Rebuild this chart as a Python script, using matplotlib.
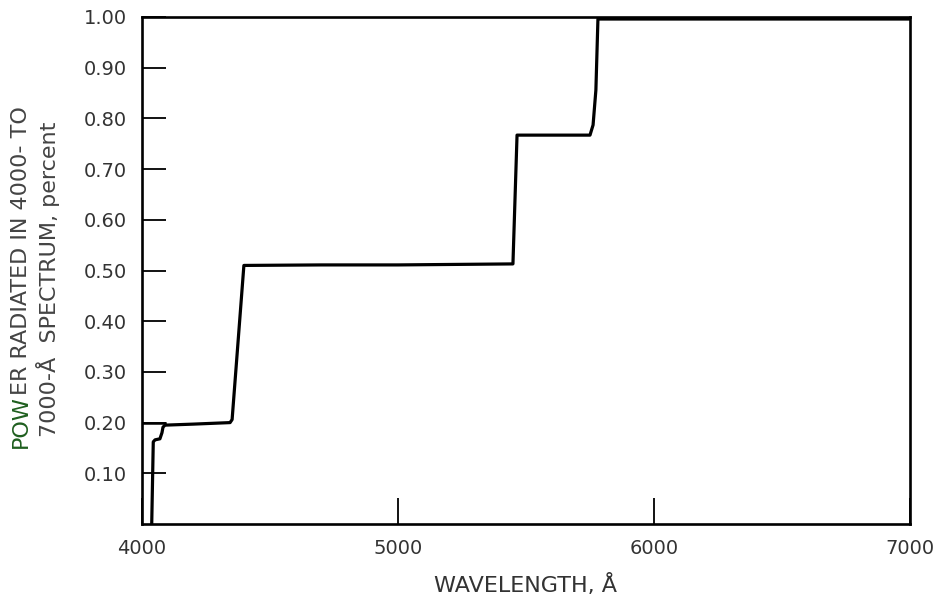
import matplotlib
matplotlib.use("Agg")
import matplotlib.pyplot as plt
from matplotlib.transforms import offset_copy

# Data
wavelength = [4038, 4044, 4051, 4070, 4078, 4082, 4090, 4200, 4344, 4352, 4398,
              4700, 5000, 5449, 5465, 5600, 5750, 5762, 5773, 5781, 6000, 7000]
power = [0.0, 0.162, 0.166, 0.168, 0.180, 0.191, 0.195, 0.197, 0.200, 0.206, 0.510,
         0.511, 0.511, 0.513, 0.767, 0.767, 0.767, 0.787, 0.856, 0.996, 0.996, 0.996]
ref_wavelength = [4000, 4090]
ref_power = [0.20, 0.20]

xticks = [4000, 5000, 6000, 7000]
xtick_labels = ["4000", "5000", "6000", "7000"]
yticks = [0.10, 0.20, 0.30, 0.40, 0.50, 0.60, 0.70, 0.80, 0.90, 1.00]
ytick_labels = ["0.10", "0.20", "0.30", "0.40", "0.50", "0.60", "0.70", "0.80", "0.90", "1.00"]

plt.rcParams['font.family'] = ['DejaVu Sans']
W, H = 943, 603
fig = plt.figure(figsize=(W / 100, H / 100), dpi=100)
ax = fig.add_axes([142 / W, (H - 524) / H, 768 / W, 507 / H])

ax.plot(wavelength, power, color='black', lw=2.3, solid_joinstyle='round')
ax.plot(ref_wavelength, ref_power, color='black', lw=1.8)

ax.set_xlim(4000, 7000)
ax.set_ylim(0, 1.0)
ax.set_xticks(xticks)
ax.set_xticklabels(xtick_labels)
ax.set_yticks(yticks)
ax.set_yticklabels(ytick_labels)

for s in ax.spines.values():
    s.set_linewidth(1.9)
    s.set_color('black')

ax.tick_params(axis='y', direction='in', length=17, width=1.3, pad=11,
               labelsize=14, labelcolor='#333333')
ax.tick_params(axis='x', direction='in', length=19, width=1.3, pad=11,
               labelsize=14, labelcolor='#333333')

ax.set_xlabel("WAVELENGTH, Å", fontsize=16, color='#333333', labelpad=11)

# Y label in two lines, first letters tinted green as in the scan
fs = 16
part_green = "POW"
part_rest = "ER RADIATED IN 4000- TO"
line2 = "7000-Å  SPECTRUM, percent"
x1, y1 = 21 / W, 1 - 448 / H
t_green = fig.text(x1, y1, part_green, rotation=90, rotation_mode='anchor',
                   ha='left', va='center', fontsize=fs, color='#1f5f1f')
fig.canvas.draw()
ext = t_green.get_window_extent(renderer=fig.canvas.get_renderer())
trans = offset_copy(fig.transFigure, fig=fig, x=0, y=ext.height, units='dots')
fig.text(x1, y1, part_rest, rotation=90, rotation_mode='anchor',
         ha='left', va='center', fontsize=fs, color='#444444', transform=trans)
fig.text(48 / W, 1 - 437 / H, line2, rotation=90, rotation_mode='anchor',
         ha='left', va='center', fontsize=fs, color='#444444')

fig.savefig("out.png", dpi=100, facecolor='white')
